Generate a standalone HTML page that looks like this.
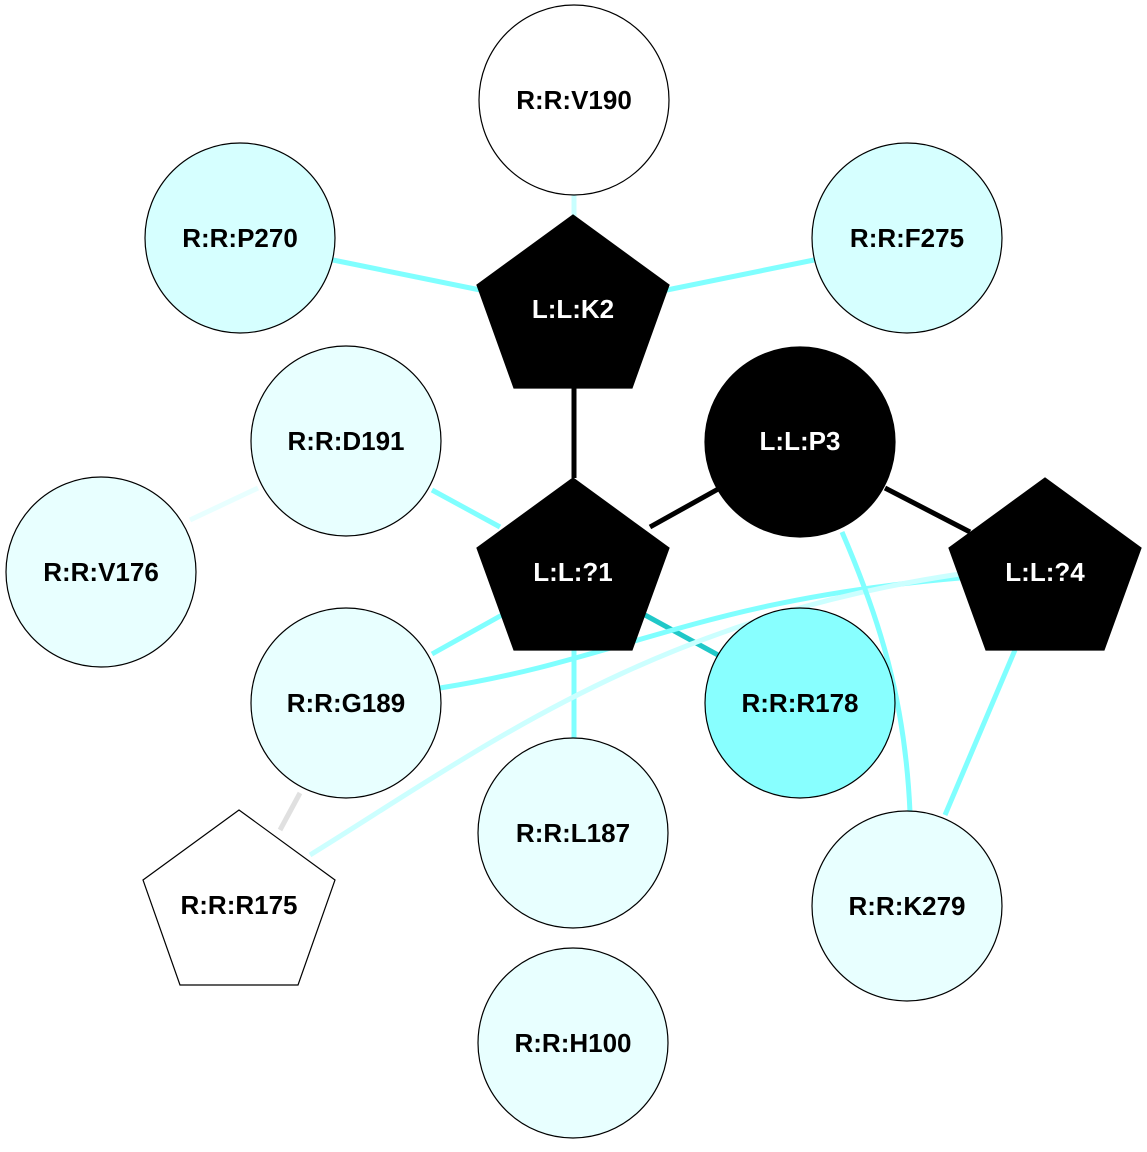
<!DOCTYPE html>
<html><head><meta charset="utf-8"><style>html,body{margin:0;padding:0;background:#fff}</style></head>
<body>
<svg width="1147" height="1147" viewBox="0 0 1147 1147" xmlns="http://www.w3.org/2000/svg" font-family="Liberation Sans, sans-serif" font-weight="bold" font-size="26">
<g fill="none" stroke-width="5">
<line x1="574" y1="195" x2="574" y2="220" stroke="#c8ffff"/>
<line x1="333" y1="260" x2="490" y2="292" stroke="#80ffff"/>
<line x1="814" y1="260" x2="657" y2="292" stroke="#80ffff"/>
<line x1="574" y1="388" x2="574" y2="478" stroke="#000"/>
<line x1="650" y1="527" x2="720" y2="488" stroke="#000"/>
<line x1="885" y1="488" x2="970" y2="532" stroke="#000"/>
<line x1="432" y1="490" x2="500" y2="527" stroke="#80ffff"/>
<line x1="190" y1="520" x2="258" y2="488" stroke="#e8ffff"/>
<line x1="432" y1="654" x2="502" y2="615" stroke="#80ffff"/>
<line x1="574" y1="650" x2="574" y2="740" stroke="#80ffff"/>
<line x1="645" y1="615" x2="718" y2="655" stroke="#20c8c8"/>
<path d="M440 688 C 620 660, 700 600, 960 578" stroke="#80ffff"/>
<path d="M310 855 C 480 750, 650 620, 960 574" stroke="#ccffff"/>
<line x1="300" y1="793" x2="280" y2="830" stroke="#e0e0e0"/>
<path d="M842 532 C 880 620, 905 700, 910 812" stroke="#80ffff"/>
<line x1="1015" y1="650" x2="945" y2="815" stroke="#80ffff"/>
</g>
<g stroke="#000" stroke-width="1.2">
<circle cx="574" cy="100" r="95" fill="#fff"/>
<circle cx="240" cy="238" r="95" fill="#d6ffff"/>
<circle cx="907" cy="238" r="95" fill="#d6ffff"/>
<circle cx="346" cy="441" r="95" fill="#e8ffff"/>
<circle cx="800" cy="442" r="95" fill="#000"/>
<circle cx="101" cy="572" r="95" fill="#e8ffff"/>
<circle cx="346" cy="703" r="95" fill="#e8ffff"/>
<circle cx="800" cy="703" r="95" fill="#88ffff"/>
<circle cx="573" cy="833" r="95" fill="#e8ffff"/>
<circle cx="907" cy="906" r="95" fill="#e8ffff"/>
<circle cx="573" cy="1043" r="95" fill="#e8ffff"/>
<polygon points="573,215 669,285 632,388 514,388 477,285" fill="#000"/>
<polygon points="573,478 669,548 632,650 514,650 477,548" fill="#000"/>
<polygon points="1045,478 1141,548 1104,650 986,650 949,548" fill="#000"/>
<polygon points="239,810 335,880 298,985 180,985 143,880" fill="#fff"/>
</g>
<g text-anchor="middle" dominant-baseline="central">
<text x="574" y="100">R:R:V190</text>
<text x="240" y="238">R:R:P270</text>
<text x="907" y="238">R:R:F275</text>
<text x="573" y="309" fill="#fff">L:L:K2</text>
<text x="346" y="441">R:R:D191</text>
<text x="800" y="441" fill="#fff">L:L:P3</text>
<text x="101" y="572">R:R:V176</text>
<text x="573" y="572" fill="#fff">L:L:?1</text>
<text x="1045" y="572" fill="#fff">L:L:?4</text>
<text x="346" y="703">R:R:G189</text>
<text x="800" y="703">R:R:R178</text>
<text x="573" y="833">R:R:L187</text>
<text x="239" y="905">R:R:R175</text>
<text x="907" y="906">R:R:K279</text>
<text x="573" y="1043">R:R:H100</text>
</g>
</svg>
</body></html>
